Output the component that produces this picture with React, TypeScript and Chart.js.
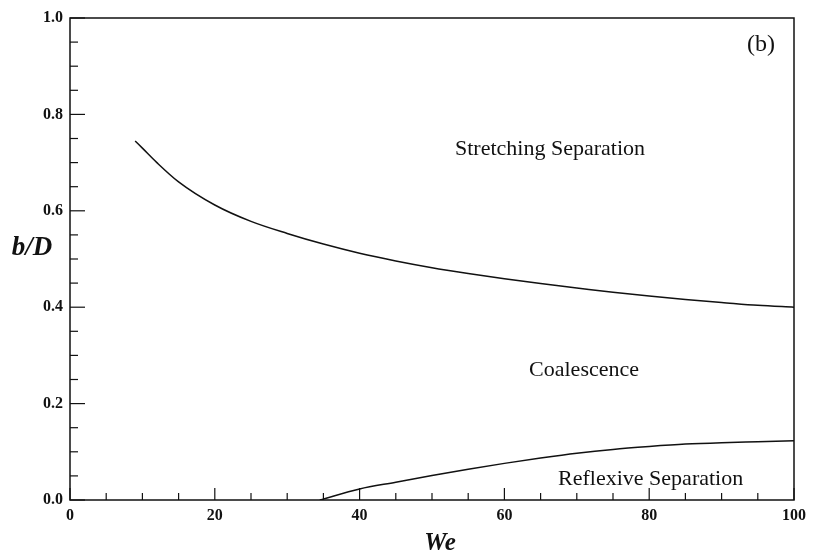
import React, { useEffect, useRef } from 'react';
import { Chart, registerables } from 'chart.js';

Chart.register(...registerables);

// Stretching-separation boundary (upper curve)
const upperWe = [9, 10, 12, 15, 20, 25, 30, 35, 40, 45, 50, 55, 60, 65, 70, 75, 80, 85, 90, 95, 100];
const upperBD = [0.745, 0.73, 0.7, 0.66, 0.612, 0.578, 0.553, 0.531, 0.512, 0.496, 0.482, 0.47, 0.459, 0.449, 0.44, 0.431, 0.423, 0.416, 0.41, 0.404, 0.4];

// Reflexive-separation boundary (lower curve)
const lowerWe = [34.5, 40, 45, 50, 55, 60, 65, 70, 75, 80, 85, 90, 95, 100];
const lowerBD = [0, 0.023, 0.037, 0.051, 0.064, 0.076, 0.087, 0.097, 0.105, 0.111, 0.116, 0.119, 0.121, 0.123];

const xTickValues = [0, 20, 40, 60, 80, 100];
const yTickValues = [0, 0.2, 0.4, 0.6, 0.8, 1.0];

const regionLabels = ['Stretching Separation', 'Coalescence', 'Reflexive Separation'];
const regionWe = [66.3, 71, 80.2];
const regionBD = [0.728, 0.27, 0.044];

const panelLabel = '(b)';
const xTitle = 'We';
const yTitle = 'b/D';

const SERIF = '"Liberation Serif", "Times New Roman", serif';
const INK = '#111';

const framePlugin = {
  id: 'frame',
  afterDraw(chart: any) {
    const { ctx, chartArea: a } = chart;
    const xs = chart.scales.x;
    const ys = chart.scales.y;
    ctx.save();
    ctx.strokeStyle = INK;
    ctx.lineWidth = 1.5;
    ctx.strokeRect(a.left, a.top, a.right - a.left, a.bottom - a.top);
    // inward ticks on x axis
    ctx.lineWidth = 1.2;
    for (let v = 0; v <= 100; v += 5) {
      const px = xs.getPixelForValue(v);
      const len = v % 20 === 0 ? 12 : 7;
      ctx.beginPath();
      ctx.moveTo(px, a.bottom);
      ctx.lineTo(px, a.bottom - len);
      ctx.stroke();
    }
    for (let i = 0; i <= 20; i++) {
      const v = i * 0.05;
      const py = ys.getPixelForValue(v);
      const len = i % 4 === 0 ? 15 : 8;
      ctx.beginPath();
      ctx.moveTo(a.left, py);
      ctx.lineTo(a.left + len, py);
      ctx.stroke();
    }
    // region labels
    ctx.fillStyle = INK;
    ctx.font = `22px ${SERIF}`;
    ctx.textAlign = 'center';
    ctx.textBaseline = 'middle';
    regionLabels.forEach((t, i) => {
      ctx.fillText(t, xs.getPixelForValue(regionWe[i]), ys.getPixelForValue(regionBD[i]));
    });
    // panel label
    ctx.font = `24px ${SERIF}`;
    ctx.fillText(panelLabel, 761, 45);
    // axis titles
    ctx.font = `italic bold 27px ${SERIF}`;
    ctx.fillText(yTitle, 32, 248);
    ctx.font = `italic bold 25px ${SERIF}`;
    ctx.fillText(xTitle, 440, 544);
    ctx.restore();
  },
};

export default function App() {
  const ref = useRef<HTMLCanvasElement>(null);
  useEffect(() => {
    const chart = new Chart(ref.current as HTMLCanvasElement, {
      type: 'scatter',
      data: {
        datasets: [
          {
            data: upperWe.map((x, i) => ({ x, y: upperBD[i] })),
            showLine: true,
            borderColor: INK,
            borderWidth: 1.5,
            pointRadius: 0,
            cubicInterpolationMode: 'monotone',
          },
          {
            data: lowerWe.map((x, i) => ({ x, y: lowerBD[i] })),
            showLine: true,
            borderColor: INK,
            borderWidth: 1.5,
            pointRadius: 0,
            cubicInterpolationMode: 'monotone',
          },
        ],
      },
      options: {
        animation: false,
        responsive: false,
        maintainAspectRatio: false,
        layout: { padding: { top: 18, right: 20, left: 0, bottom: 0 } },
        plugins: { legend: { display: false }, tooltip: { enabled: false } },
        scales: {
          x: {
            type: 'linear',
            min: 0,
            max: 100,
            afterBuildTicks: (s: any) => {
              s.ticks = xTickValues.map((v) => ({ value: v }));
            },
            ticks: {
              color: INK,
              padding: 6,
              maxRotation: 0,
              font: { family: SERIF, size: 16, weight: 'bold' },
              callback: (v: any) => String(v),
            },
            grid: { display: false, drawTicks: false },
            border: { display: false },
            afterFit: (s: any) => {
              s.height = 54;
            },
          },
          y: {
            type: 'linear',
            min: 0,
            max: 1,
            afterBuildTicks: (s: any) => {
              s.ticks = yTickValues.map((v) => ({ value: v }));
            },
            ticks: {
              color: INK,
              padding: 7,
              font: { family: SERIF, size: 16, weight: 'bold' },
              callback: (v: any) => Number(v).toFixed(1),
            },
            grid: { display: false, drawTicks: false },
            border: { display: false },
            afterFit: (s: any) => {
              s.width = 70;
            },
          },
        },
      } as any,
      plugins: [framePlugin],
    });
    return () => chart.destroy();
  }, []);
  return (
    <div style={{ position: 'fixed', left: 0, top: 0, width: 814, height: 554, background: '#fff' }}>
      <canvas ref={ref} width={814} height={554} style={{ width: 814, height: 554, display: 'block' }} />
    </div>
  );
}
